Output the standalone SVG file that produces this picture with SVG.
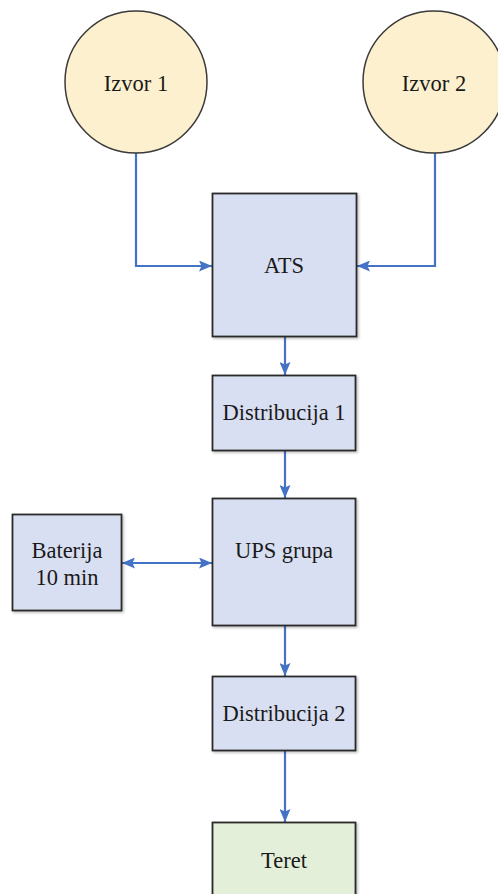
<svg xmlns="http://www.w3.org/2000/svg" width="498" height="894" viewBox="0 0 498 894">
<defs>
<marker id="ah" viewBox="0 0 13 11" refX="13" refY="5.5" markerWidth="13" markerHeight="11" markerUnits="userSpaceOnUse" orient="auto-start-reverse">
<path d="M0,0 L13,5.5 L0,11 L2.5,5.5 z" fill="#4472C4"/>
</marker>
<filter id="sh" x="-10%" y="-10%" width="130%" height="130%">
<feDropShadow dx="1.5" dy="1.5" stdDeviation="1.2" flood-color="#000" flood-opacity="0.25"/>
</filter>
</defs>
<style>
.circ{fill:#FDF0CE;stroke:#3a3a3a;stroke-width:1.5}
.box{fill:#D9DFF2;stroke:#2b2b2b;stroke-width:1.8;filter:url(#sh)}
.green{fill:#E3EFD9}
.lbl{font-size:22.5px;fill:#1a1a1a;text-anchor:middle;dominant-baseline:central}
.con{fill:none;stroke:#4472C4;stroke-width:2.2}
</style>
<rect width="498" height="894" fill="#ffffff"/>
<g id="connectors">
<path class="con" d="M136,153 V266 H212" marker-end="url(#ah)"/>
<path class="con" d="M435,153 V266 H357" marker-end="url(#ah)"/>
<path class="con" d="M285,337 V375" marker-end="url(#ah)"/>
<path class="con" d="M285,450 V498" marker-end="url(#ah)"/>
<path class="con" d="M285,626 V676" marker-end="url(#ah)"/>
<path class="con" d="M285,751 V822" marker-end="url(#ah)"/>
<path class="con" d="M122,563 H212" marker-start="url(#ah)" marker-end="url(#ah)"/>
</g>
<g font-family="Liberation Serif, DejaVu Serif, serif">
<g id="izvor1">
<circle class="circ" cx="136" cy="82" r="71"/>
<text class="lbl" x="136" y="83">Izvor 1</text>
</g>
<g id="izvor2">
<circle class="circ" cx="434" cy="82" r="71"/>
<text class="lbl" x="434" y="83">Izvor 2</text>
</g>
<g id="ats">
<rect class="box" x="212.5" y="193.5" width="144" height="143"/>
<text class="lbl" x="284" y="265">ATS</text>
</g>
<g id="dist1">
<rect class="box" x="212.5" y="375.5" width="143" height="75"/>
<text class="lbl" x="284" y="412">Distribucija 1</text>
</g>
<g id="ups">
<rect class="box" x="212.5" y="498.5" width="143" height="127"/>
<text class="lbl" x="284" y="550">UPS grupa</text>
</g>
<g id="baterija">
<rect class="box" x="12.5" y="514.5" width="109" height="96"/>
<text class="lbl" x="67" y="550">Baterija</text>
<text class="lbl" x="67" y="577">10 min</text>
</g>
<g id="dist2">
<rect class="box" x="212.5" y="676.5" width="143" height="74"/>
<text class="lbl" x="284" y="713">Distribucija 2</text>
</g>
<g id="teret">
<rect class="box green" x="212.5" y="822.5" width="143" height="80"/>
<text class="lbl" x="284" y="860">Teret</text>
</g>
</g>
</svg>
